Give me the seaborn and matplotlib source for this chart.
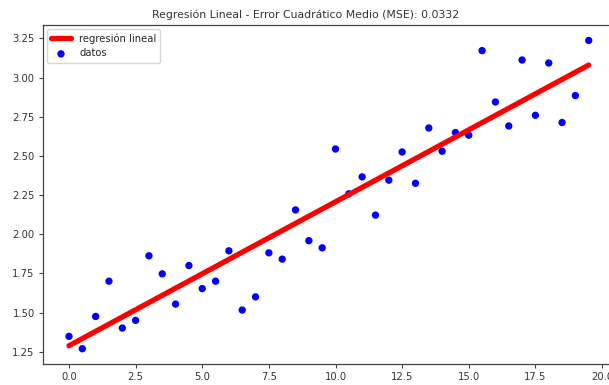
import numpy as np
import pandas as pd
import matplotlib
matplotlib.use("Agg")
import matplotlib.pyplot as plt
import seaborn as sns

x_vals = [0.0, 0.5, 1.0, 1.5, 2.0, 2.5, 3.0, 3.5, 4.0, 4.5,
          5.0, 5.5, 6.0, 6.5, 7.0, 7.5, 8.0, 8.5, 9.0, 9.5,
          10.0, 10.5, 11.0, 11.5, 12.0, 12.5, 13.0, 13.5, 14.0, 14.5,
          15.0, 15.5, 16.0, 16.5, 17.0, 17.5, 18.0, 18.5, 19.0, 19.5]
y_vals = [1.348, 1.269, 1.475, 1.700, 1.401, 1.450, 1.862, 1.747, 1.554, 1.800,
          1.653, 1.700, 1.894, 1.516, 1.600, 1.881, 1.841, 2.155, 1.959, 1.913,
          2.544, 2.258, 2.366, 2.122, 2.345, 2.525, 2.325, 2.678, 2.530, 2.649,
          2.632, 3.172, 2.844, 2.691, 3.112, 2.759, 3.093, 2.713, 2.885, 3.237]
line_start = 1.288
line_end = 3.080

x = np.array(x_vals)
y = np.array(y_vals)
fit = np.array([line_start + (line_end - line_start) * xi / x[-1] for xi in x])
mse_label = "0.0332"

df = pd.DataFrame({"x": x, "y": y, "fit": fit})

sns.set_style("white")
plt.rcParams['font.family'] = ['DejaVu Sans']

fig = plt.figure(figsize=(6.09, 3.85), dpi=100)
ax = fig.add_axes([43/609, 21/385, 571.7/609, 339/385])

sns.lineplot(data=df, x="x", y="fit", ax=ax, color="red", linewidth=3.8,
             label="regresión lineal")
sns.scatterplot(data=df, x="x", y="y", ax=ax, color="blue", s=28,
                edgecolor="none", label="datos")

ax.set_xlim(-0.975, 20.475)
ax.set_ylim(1.1715, 3.3355)
ax.set_xticks([0, 2.5, 5, 7.5, 10, 12.5, 15, 17.5, 20])
ax.set_xticklabels(["0.0", "2.5", "5.0", "7.5", "10.0", "12.5", "15.0", "17.5", "20.0"])
ax.set_yticks([1.25, 1.5, 1.75, 2.0, 2.25, 2.5, 2.75, 3.0, 3.25])
ax.set_yticklabels(["1.25", "1.50", "1.75", "2.00", "2.25", "2.50", "2.75", "3.00", "3.25"])
ax.set_xlabel("")
ax.set_ylabel("")
ax.tick_params(axis="both", which="both", length=3, width=0.8, color="#444444",
               labelsize=7.2, labelcolor="#333333", direction="out",
               bottom=True, left=True, pad=3)
for sp in ax.spines.values():
    sp.set_color("#444444")
    sp.set_linewidth(0.9)

ax.set_title("Regresión Lineal - Error Cuadrático Medio (MSE): " + mse_label,
             fontsize=7.8, color="#333333", pad=5, x=0.46)

leg = ax.legend(loc="upper left", fontsize=7.2, scatterpoints=1,
                frameon=True, borderaxespad=0.4, handlelength=2.0)
leg.get_frame().set_edgecolor("#cccccc")

fig.savefig("out.png", dpi=100)
